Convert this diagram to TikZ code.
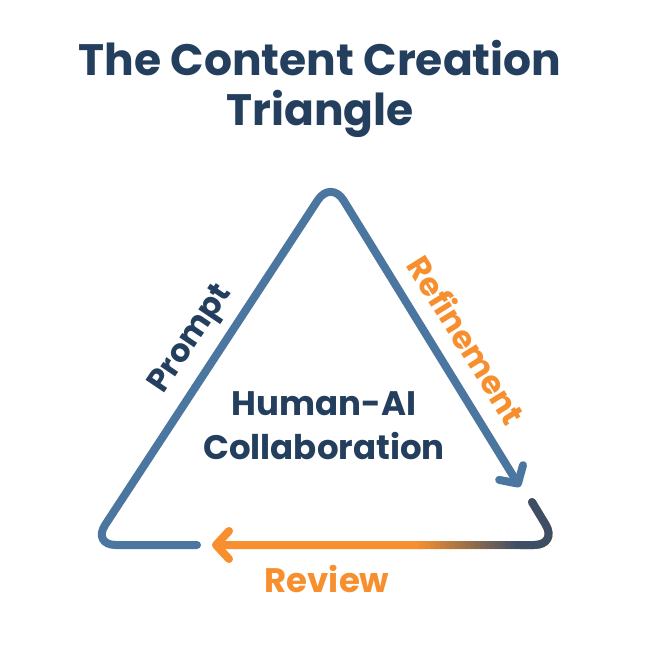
\documentclass[tikz,border=0pt]{standalone}
\usepackage{fontspec}
\setmainfont{Poppins}
\usepackage{xcolor}
\usepackage{tikz}
\usetikzlibrary{positioning,arrows.meta,calc}

\definecolor{navy}{HTML}{243F5E}
\definecolor{edgeblue}{HTML}{4A76A0}
\definecolor{accent}{HTML}{F78F2E}
\definecolor{slate}{HTML}{3D4F66}

\begin{document}
\begin{tikzpicture}[x=1pt, y=-1pt,
  side/.style  ={line width=8pt, line cap=round, line join=round,
                 rounded corners=24pt},
  tip/.style   ={-{Straight Barb[length=13pt, width=28pt, round]}},
  title/.style ={font=\fontsize{44}{52}\selectfont\bfseries, text=navy,
                 align=center, inner sep=0pt, anchor=base},
  lbl/.style   ={font=\fontsize{32}{38}\selectfont\bfseries, inner sep=0pt}]

  \useasboundingbox[fill=white] (0,0) rectangle (665,651);

  % --- corners -----------------------------------------------------------
  \coordinate (apex)  at (331,180);
  \coordinate (left)  at (92,545);
  \coordinate (right) at (558,545);
  \coordinate (bstart) at (197,545);
  \coordinate (rtip)  at (520,487);
  \coordinate (rstart) at (532,502);
  \coordinate (btip)  at (212,545);

  % --- title -------------------------------------------------------------
  \node[title] (head) at (320,75) {The Content Creation};
  \node[title] (head2) at (320,125) {Triangle};

  % --- triangle ----------------------------------------------------------
  \draw[side, tip, draw=edgeblue] (bstart) -- (left) -- (apex) -- (rtip);
  \draw[side, tip, draw=accent] (rstart) -- (right) -- (btip);
  \draw[side, draw=slate, line cap=butt] (rstart) -- (right) -- (520,545);
  \foreach \i in {0,...,19}
    \pgfmathsetmacro{\mix}{100-5*\i}
    \draw[line width=8pt, draw=slate!\mix!accent]
      (520-5*\i,545) -- (514-5*\i,545);
  \fill[slate] (rstart) circle (4pt);

  % --- labels ------------------------------------------------------------
  \node[lbl, text=navy, rotate=56] (prompt) at (192,340) {Prompt};
  \node[lbl, text=accent, rotate=-58] (refine) at (467,340) {Refinement};
  \node[lbl, text=accent, font=\fontsize{34}{40}\selectfont\bfseries,
        anchor=base] (review) at (327,592) {Review};
  \node[font=\fontsize{34}{44}\selectfont\bfseries, text=navy, align=center,
        inner sep=0pt] (hac) at (324,426) {Human-AI\\Collaboration};
\end{tikzpicture}
\end{document}
